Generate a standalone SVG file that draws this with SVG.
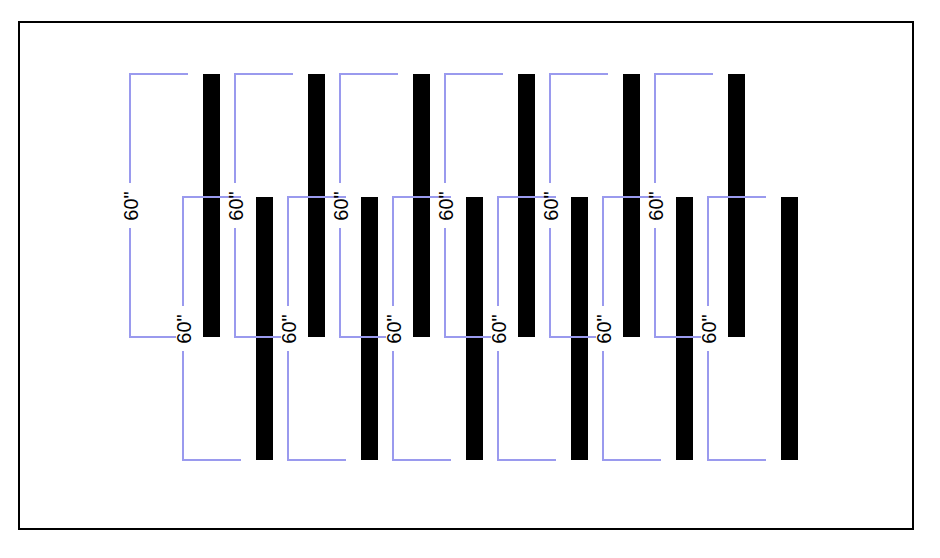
<svg xmlns="http://www.w3.org/2000/svg" width="940" height="558" viewBox="0 0 940 558">
<style>
.dim{fill:none;stroke:#9a9aee;stroke-width:2}
.bar{fill:#000}
.bg{fill:#fff}
.lbl{font-family:"Liberation Sans",Arial,sans-serif;font-size:20px;fill:#000;text-anchor:middle;dominant-baseline:central}
</style>
<rect x="0" y="0" width="940" height="558" fill="#fff"/>
<rect x="19" y="22" width="894" height="507" fill="none" stroke="#000" stroke-width="2"/>
<g id="bars">
<g id="bar-t1"><rect class="bar" x="203" y="74" width="17" height="263"/></g>
<g id="bar-t2"><rect class="bar" x="308" y="74" width="17" height="263"/></g>
<g id="bar-t3"><rect class="bar" x="413" y="74" width="17" height="263"/></g>
<g id="bar-t4"><rect class="bar" x="518" y="74" width="17" height="263"/></g>
<g id="bar-t5"><rect class="bar" x="623" y="74" width="17" height="263"/></g>
<g id="bar-t6"><rect class="bar" x="728" y="74" width="17" height="263"/></g>
<g id="bar-b1"><rect class="bar" x="256" y="197" width="17" height="263"/></g>
<g id="bar-b2"><rect class="bar" x="361" y="197" width="17" height="263"/></g>
<g id="bar-b3"><rect class="bar" x="466" y="197" width="17" height="263"/></g>
<g id="bar-b4"><rect class="bar" x="571" y="197" width="17" height="263"/></g>
<g id="bar-b5"><rect class="bar" x="676" y="197" width="17" height="263"/></g>
<g id="bar-b6"><rect class="bar" x="781" y="197" width="17" height="263"/></g>
</g>
<g id="connectors">
<g id="dims-top">
<path class="dim" d="M188 74H130V337H188"/>
<path class="dim" d="M293 74H235V337H293"/>
<path class="dim" d="M398 74H340V337H398"/>
<path class="dim" d="M503 74H445V337H503"/>
<path class="dim" d="M608 74H550V337H608"/>
<path class="dim" d="M713 74H655V337H713"/>
</g>
<g id="label-bgs-top">
<rect class="bg" x="123" y="183" width="14" height="45"/>
<rect class="bg" x="228" y="183" width="14" height="45"/>
<rect class="bg" x="333" y="183" width="14" height="45"/>
<rect class="bg" x="438" y="183" width="14" height="45"/>
<rect class="bg" x="543" y="183" width="14" height="45"/>
<rect class="bg" x="648" y="183" width="14" height="45"/>
</g>
<g id="dims-bottom">
<path class="dim" d="M241 197H183V460H241"/>
<path class="dim" d="M346 197H288V460H346"/>
<path class="dim" d="M451 197H393V460H451"/>
<path class="dim" d="M556 197H498V460H556"/>
<path class="dim" d="M661 197H603V460H661"/>
<path class="dim" d="M766 197H708V460H766"/>
</g>
<g id="labels-top">
<g id="lt1"><text class="lbl" transform="translate(131,206) rotate(-90)">60"</text></g>
<g id="lt2"><text class="lbl" transform="translate(236,206) rotate(-90)">60"</text></g>
<g id="lt3"><text class="lbl" transform="translate(341,206) rotate(-90)">60"</text></g>
<g id="lt4"><text class="lbl" transform="translate(446,206) rotate(-90)">60"</text></g>
<g id="lt5"><text class="lbl" transform="translate(551,206) rotate(-90)">60"</text></g>
<g id="lt6"><text class="lbl" transform="translate(656,206) rotate(-90)">60"</text></g>
</g>
<g id="labels-bottom">
<g id="lb1"><rect class="bg" x="176" y="306" width="14" height="45"/><text class="lbl" transform="translate(184,329) rotate(-90)">60"</text></g>
<g id="lb2"><rect class="bg" x="281" y="306" width="14" height="45"/><text class="lbl" transform="translate(289,329) rotate(-90)">60"</text></g>
<g id="lb3"><rect class="bg" x="386" y="306" width="14" height="45"/><text class="lbl" transform="translate(394,329) rotate(-90)">60"</text></g>
<g id="lb4"><rect class="bg" x="491" y="306" width="14" height="45"/><text class="lbl" transform="translate(499,329) rotate(-90)">60"</text></g>
<g id="lb5"><rect class="bg" x="596" y="306" width="14" height="45"/><text class="lbl" transform="translate(604,329) rotate(-90)">60"</text></g>
<g id="lb6"><rect class="bg" x="701" y="306" width="14" height="45"/><text class="lbl" transform="translate(709,329) rotate(-90)">60"</text></g>
</g>
</g>
</svg>
